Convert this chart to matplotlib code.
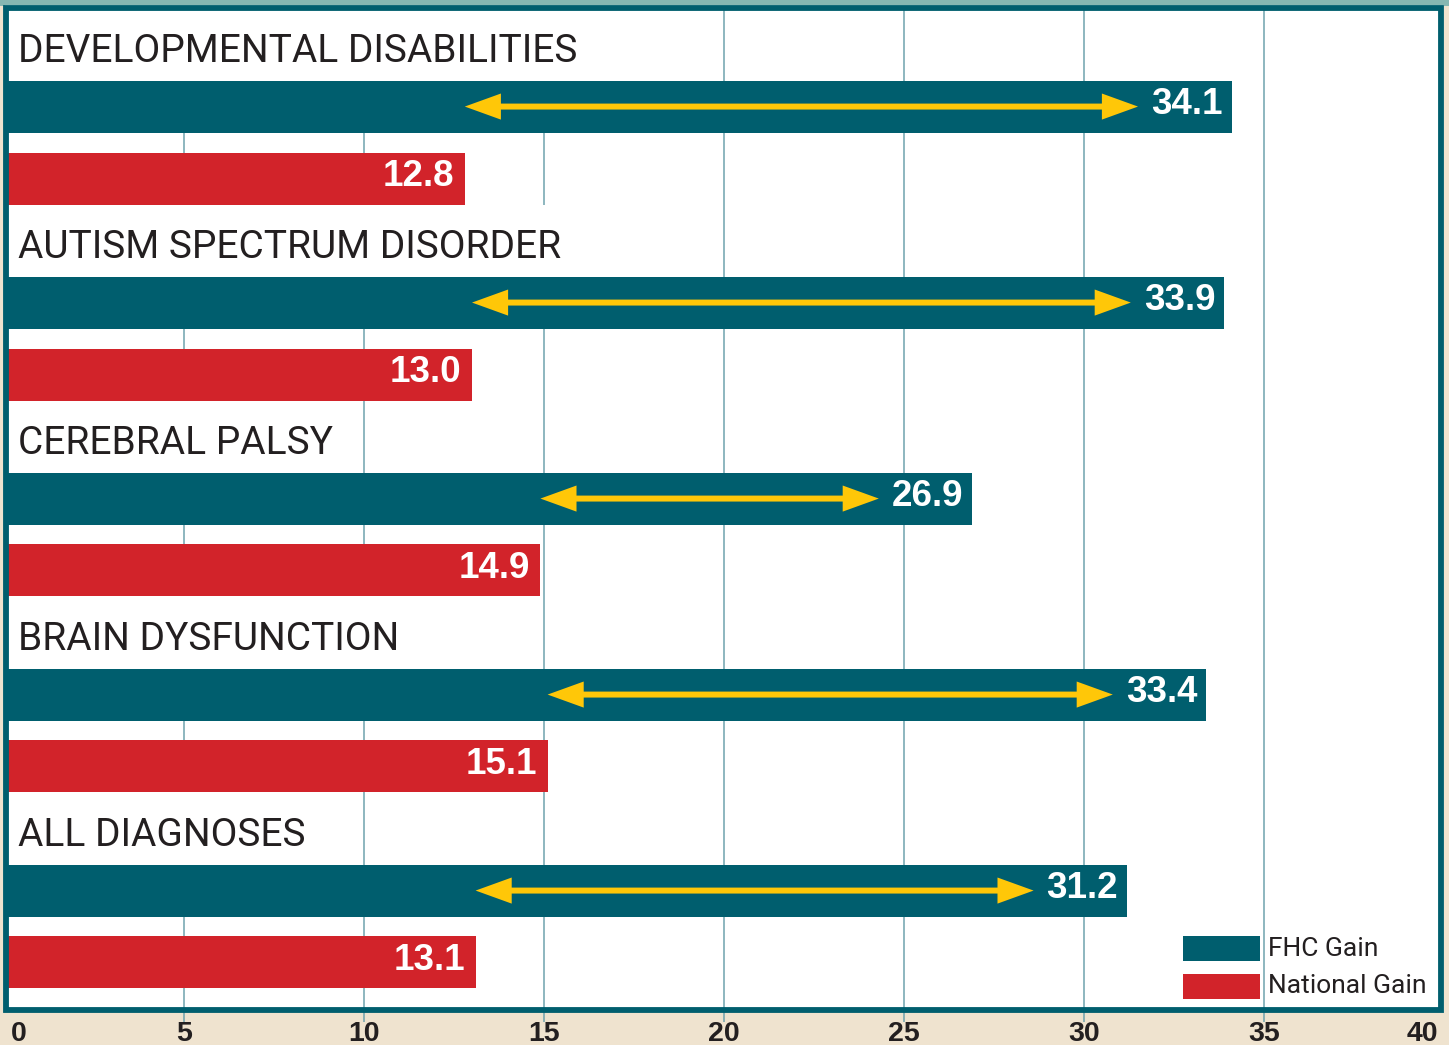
import matplotlib
matplotlib.use("Agg")
import matplotlib.pyplot as plt
from matplotlib.patches import Rectangle

categories = ["DEVELOPMENTAL DISABILITIES", "AUTISM SPECTRUM DISORDER",
              "CEREBRAL PALSY", "BRAIN DYSFUNCTION", "ALL DIAGNOSES"]
fhc_gain = [34.1, 33.9, 26.9, 33.4, 31.2]
national_gain = [12.8, 13.0, 14.9, 15.1, 13.1]
xticks = [0, 5, 10, 15, 20, 25, 30, 35, 40]
legend_labels = ["FHC Gain", "National Gain"]

TEAL = "#005E6E"
RED = "#D2232A"
YELLOW = "#FFC708"
GRID = "#6FA3AE"
BEIGE = "#EFE3CF"
TEXT = "#231F20"

W, H = 1449, 1045
fig = plt.figure(figsize=(W / 100, H / 100), dpi=100)
fig.patch.set_facecolor(BEIGE)

def fx(px):
    return px / W

def fy(py):
    return 1 - py / H

# top gradient strip
fig.add_artist(Rectangle((0, fy(6)), 1, 6 / H, transform=fig.transFigure,
                         facecolor="#86B7B2", edgecolor="none", zorder=0))
# white panel
fig.add_artist(Rectangle((fx(5), fy(1012)), fx(1444 - 5), (1012 - 5) / H,
                         transform=fig.transFigure, facecolor="white",
                         edgecolor="none", zorder=0))

ax_l, ax_r, ax_t, ax_b = 4, 1444, 7, 1012
ax = fig.add_axes([fx(ax_l), fy(ax_b), fx(ax_r - ax_l), (ax_b - ax_t) / H])
ax.set_facecolor("none")
ax.set_xlim(0, 40)
U = 196.0  # pixels per group
span = (ax_b - ax_t) / U
ax.set_ylim(span, 0)
for s in ax.spines.values():
    s.set_visible(False)
ax.set_xticks([])
ax.set_yticks([])

# gridlines (extend a bit below the frame)
ext = 10 / U
for t in xticks[1:-1]:
    ax.vlines(t, 0, span + ext, color=GRID, lw=1.1, zorder=0, clip_on=False)

bar_h = 52 / U
head_len = 1.0  # data units
labels = []
for i, (cat, f, n) in enumerate(zip(categories, fhc_gain, national_gain)):
    yt = i + 0.508
    yr = i + 0.875
    yl = i + 0.226
    ax.barh(yt, f, height=bar_h, color=TEAL, zorder=2)
    ax.barh(yr, n, height=bar_h, color=RED, zorder=2)
    txt = ax.text(0.4, yl, cat, ha="left", va="center", fontsize=28,
                  family="Roboto", color=TEXT, zorder=3)
    labels.append((txt, i))
    ax.text(f - 0.25, yt - 0.01, f"{f:.1f}", ha="right", va="center",
            fontsize=26.5, fontweight="bold", family="Liberation Sans",
            color="white", zorder=4)
    ax.text(n - 0.3, yr - 0.01, f"{n:.1f}", ha="right", va="center",
            fontsize=26.5, fontweight="bold", family="Liberation Sans",
            color="white", zorder=4)
    xe = f - 2.6
    # shaft
    ax.annotate("", xy=(xe - 0.6 * head_len, yt), xytext=(n + 0.6 * head_len, yt),
                arrowprops=dict(arrowstyle="-", color=YELLOW, lw=4.3,
                                shrinkA=0, shrinkB=0, capstyle="butt"),
                zorder=3)
    # heads
    ax.annotate("", xy=(xe, yt), xytext=(n, yt),
                arrowprops=dict(arrowstyle="<|-|>,head_length=26,head_width=9.4",
                                mutation_scale=1, facecolor=YELLOW,
                                edgecolor="none", lw=0,
                                shrinkA=0, shrinkB=0),
                zorder=3)

# white boxes behind category labels (cover the gridlines)
fig.canvas.draw()
renderer = fig.canvas.get_renderer()
inv = ax.transData.inverted()
for txt, i in labels:
    bb = txt.get_window_extent(renderer)
    x1 = inv.transform((bb.x1, bb.y0))[0] + 0.15
    top = 0 if i == 0 else (i - 1) + 0.875 + bar_h / 2
    bot = i + 0.508 - bar_h / 2
    ax.add_patch(Rectangle((0, top), x1, bot - top, facecolor="white",
                           edgecolor="none", zorder=1))

# legend
lx0, lx1 = 32.75, 34.9
ly = [4.806, 4.995]
for yy, col, lab in zip(ly, [TEAL, RED], legend_labels):
    ax.add_patch(Rectangle((lx0, yy - 12.5 / U), lx1 - lx0, 25 / U,
                           facecolor=col, edgecolor="none", zorder=3))
    ax.text(35.1, yy, lab, ha="left", va="center", fontsize=19,
            family="Roboto", color=TEXT, zorder=3)

# frame border
fig.add_artist(Rectangle((fx(6.5), fy(1010)), fx(1441 - 6.5), (1010 - 7.5) / H,
                         transform=fig.transFigure, facecolor="none",
                         edgecolor=TEAL, lw=4.2, zorder=5))

# tick labels
for t in xticks:
    xp = 4 + t * 36
    ha = "center"
    if t == 0:
        xp, ha = 11, "left"
    elif t == 40:
        xp, ha = 1438, "right"
    fig.text(fx(xp), fy(1034), str(t), ha=ha, va="center", fontsize=20.5,
             fontweight="bold", family="Liberation Sans", color=TEXT)

fig.savefig("out.png", dpi=100, facecolor=BEIGE)
